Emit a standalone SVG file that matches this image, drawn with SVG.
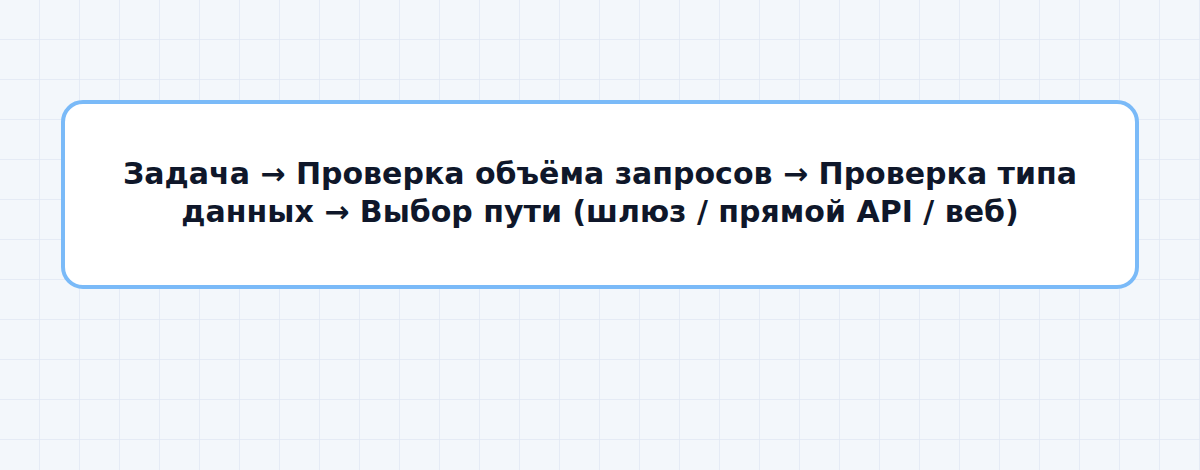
<svg xmlns="http://www.w3.org/2000/svg" width="1200" height="470" viewBox="0 0 1200 470">
<defs>
<pattern id="grid" width="40" height="40" patternUnits="userSpaceOnUse">
<path d="M40 0V40M0 40H40" fill="none" stroke="#e1e8f3" stroke-width="1.5"/>
</pattern>
<style>
.node{fill:#ffffff;stroke:#7abaf8;stroke-width:4}
.label{font-family:"DejaVu Sans",sans-serif;font-weight:bold;font-size:30px;fill:#0f172a;text-anchor:middle}
</style>
</defs>
<rect width="1200" height="470" fill="#f3f7fb"/>
<rect width="1200" height="470" fill="url(#grid)"/>
<g id="connectors"></g>
<g id="node-flow">
<rect class="node" x="63" y="102" width="1074" height="185" rx="20"/>
<text class="label" x="600" y="184">Задача → Проверка объёма запросов → Проверка типа</text>
<text class="label" x="600" y="222">данных → Выбор пути (шлюз / прямой API / веб)</text>
</g>
</svg>
